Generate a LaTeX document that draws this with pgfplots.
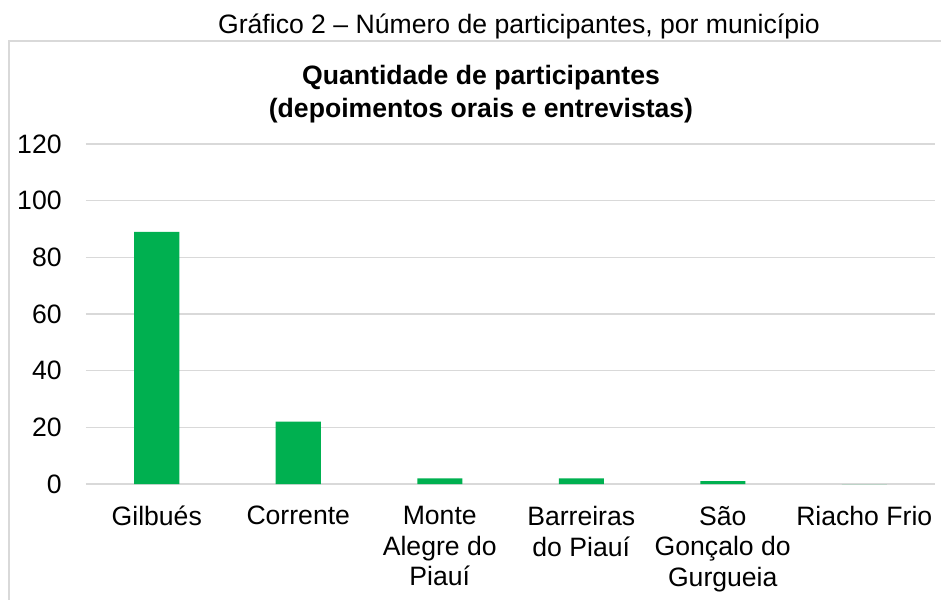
\documentclass[border=0pt]{standalone}
\usepackage{fontspec}
\setmainfont{Liberation Sans}
\usepackage{pgfplots}
\pgfplotsset{compat=1.18}
\definecolor{bargreen}{HTML}{00B050}
\definecolor{gridgray}{HTML}{D9D9D9}
\begin{document}
\fontsize{13.3}{15.25}\selectfont
\begin{tikzpicture}
\path[use as bounding box] (0,0) rectangle (470.5pt,-299.5pt);
\draw[gridgray, line width=0.8pt] (4.5pt,-300pt) -- (4.5pt,-20.5pt) -- (471pt,-20.5pt);
\node[anchor=base, inner sep=0pt] at (259.5pt,-17pt) {Gráfico 2 – Número de participantes, por município};
\node[anchor=base, inner sep=0pt, font=\bfseries] at (240.5pt,-42.5pt) {Quantidade de participantes};
\node[anchor=base, inner sep=0pt, font=\bfseries] at (240.5pt,-59pt) {(depoimentos orais e entrevistas)};
\begin{axis}[
  at={(43pt,-242pt)}, anchor=south west,
  width=424.5pt, height=170pt, scale only axis,
  xmin=-0.5, xmax=5.5, ymin=0, ymax=120,
  ytick={0,20,...,120},
  xtick={0,1,2,3,4,5},
  xticklabels={Gilbués, Corrente, {Monte\\Alegre do\\Piauí}, {Barreiras\\do Piauí}, {São\\Gonçalo do\\Gurgueia}, Riacho Frio},
  xticklabel style={align=center, inner sep=0pt, anchor=north, yshift=-11pt},
  yticklabel style={anchor=east, inner sep=0pt, xshift=-12pt},
  /pgf/number format/assume math mode=true,
  axis line style={draw=none},
  major tick length=0pt,
  ymajorgrids, grid style={gridgray, line width=0.65pt},
  clip=false,
]
\addplot[ybar, bar width=22.5pt, fill=bargreen, draw=none] coordinates {
(0,89) (1,22) (2,2) (3,2) (4,1) (5,0)
};
\end{axis}
\end{tikzpicture}
\end{document}
